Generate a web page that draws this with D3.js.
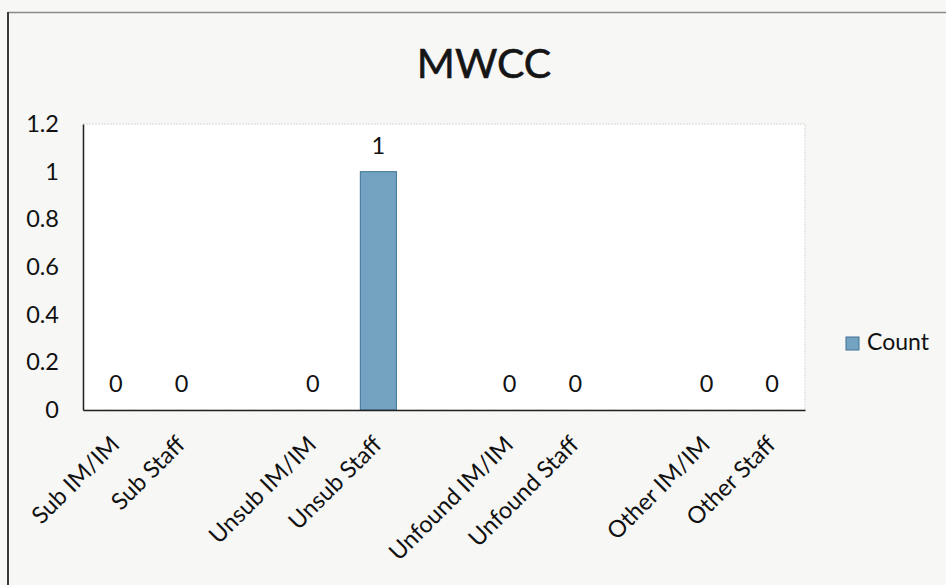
<!DOCTYPE html>
<meta charset="utf-8">
<style>
body { margin: 0; background: #fff; }
svg { display: block; font-family: Lato, "Open Sans", sans-serif; }
</style>
<body>
<svg width="946" height="585"></svg>
<script src="https://d3js.org/d3.v7.min.js"></script>
<script>

var categories = ["Sub IM/IM", "Sub Staff", "", "Unsub IM/IM", "Unsub Staff", "",
                  "Unfound IM/IM", "Unfound Staff", "", "Other IM/IM", "Other Staff"];
var counts = [0, 0, null, 0, 1, null, 0, 0, null, 0, 0];
var yTicks = [0, 0.2, 0.4, 0.6, 0.8, 1, 1.2];
var seriesName = "Count";
var chartTitle = "MWCC";

var svg = d3.select("svg"),
    margin = {top: 124, left: 83, right: 141, bottom: 175},
    width = 946 - margin.left - margin.right,
    height = 585 - margin.top - margin.bottom;

// page / chart frame
svg.append("rect").attr("width", 946).attr("height", 585).attr("fill", "#f7f7f6");
svg.append("line").attr("x1", 8).attr("x2", 946).attr("y1", 12.5).attr("y2", 12.5)
  .attr("stroke", "#8a8a8a").attr("stroke-width", 1.5);
svg.append("line").attr("x1", 8).attr("x2", 8).attr("y1", 12).attr("y2", 585)
  .attr("stroke", "#3a3a3a").attr("stroke-width", 2);

svg.append("text")
  .attr("x", 484).attr("y", 78)
  .attr("text-anchor", "middle")
  .attr("font-size", 41)
  .attr("fill", "#151515")
  .attr("stroke", "#151515").attr("stroke-width", 0.6)
  .text(chartTitle);

var g = svg.append("g").attr("transform", "translate(" + margin.left + "," + margin.top + ")");

g.append("rect").attr("width", width).attr("height", height).attr("fill", "#fff")
  .attr("stroke", "#d8d8d8").attr("stroke-dasharray", "2,1");

var x = d3.scaleBand()
  .domain(d3.range(categories.length))
  .range([0, width])
  .paddingInner(0.45)
  .paddingOuter(0.225);

var y = d3.scaleLinear().domain([0, 1.2]).range([height, 0]);

// y axis
var yAxis = g.append("g")
  .call(d3.axisLeft(y).tickValues(yTicks).tickSize(0).tickPadding(24).tickFormat(d3.format("")));
yAxis.select(".domain").attr("stroke", "#222").attr("stroke-width", 1.5);
yAxis.selectAll("text").attr("font-size", 23.5).attr("font-family", "Lato").attr("fill", "#111");

// bars
g.selectAll(".bar")
  .data(counts.map(function(v, i) { return {i: i, v: v}; }).filter(function(d) { return d.v !== null; }))
  .enter().append("rect")
  .attr("class", "bar")
  .attr("x", function(d) { return x(d.i); })
  .attr("width", x.bandwidth())
  .attr("y", function(d) { return y(d.v); })
  .attr("height", function(d) { return height - y(d.v); })
  .attr("fill", "#74a3c2")
  .attr("stroke", "#3f7396")
  .attr("stroke-width", 1);

// value labels
g.selectAll(".val")
  .data(counts.map(function(v, i) { return {i: i, v: v}; }).filter(function(d) { return d.v !== null; }))
  .enter().append("text")
  .attr("class", "val")
  .attr("x", function(d) { return x(d.i) + x.bandwidth() / 2; })
  .attr("y", function(d) { return y(d.v) - 18; })
  .attr("text-anchor", "middle")
  .attr("font-size", 23.5)
  .attr("fill", "#111")
  .text(function(d) { return d.v; });

// x axis
var xAxis = g.append("g")
  .attr("transform", "translate(0," + height + ")")
  .call(d3.axisBottom(x).tickSize(0).tickFormat(function(i) { return categories[i]; }));
xAxis.select(".domain").attr("stroke", "#222").attr("stroke-width", 1.5);
xAxis.selectAll("text")
  .attr("font-size", 23.5)
  .attr("font-family", "Lato")
  .attr("fill", "#111")
  .attr("text-anchor", "end")
  .attr("dy", null)
  .attr("y", 0)
  .attr("transform", "translate(5,36) rotate(-45)");

// legend
var legend = svg.append("g").attr("transform", "translate(846,337)");
legend.append("rect").attr("width", 13).attr("height", 13)
  .attr("fill", "#74a3c2").attr("stroke", "#3f7396");
legend.append("text").attr("x", 21).attr("y", 13)
  .attr("font-size", 23).attr("fill", "#111").text(seriesName);

</script>
</body>
